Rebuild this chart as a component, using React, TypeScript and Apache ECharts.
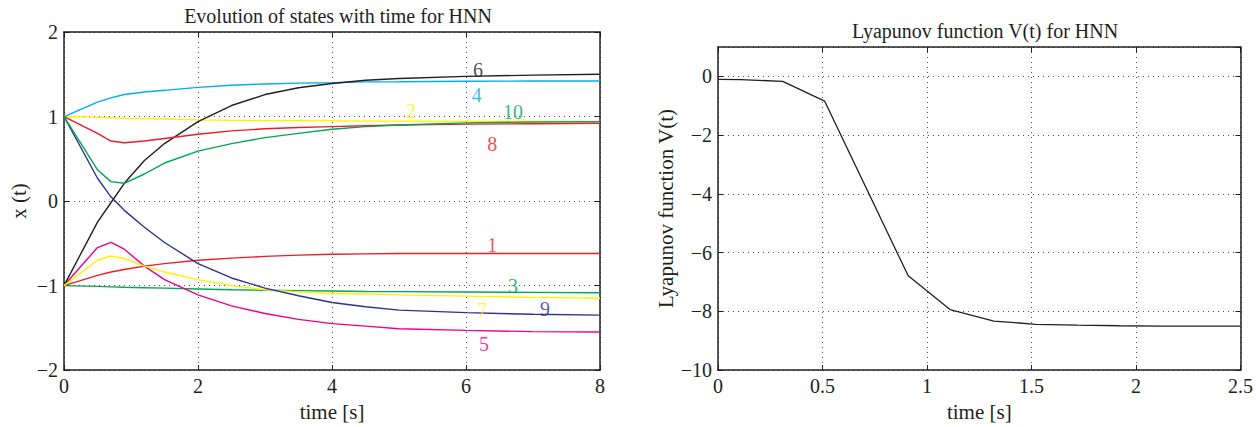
import React, { useEffect, useRef } from "react";
import * as echarts from "echarts";

// ---------- Left chart: evolution of states ----------
const stateTimes = [0, 0.5, 0.7, 0.9, 1.2, 1.5, 2, 2.5, 3, 3.5, 4, 4.5, 5, 6, 7, 8];

const state1 = [-1, -0.88, -0.84, -0.81, -0.77, -0.74, -0.7, -0.675, -0.655, -0.64, -0.63, -0.625, -0.62, -0.62, -0.62, -0.62];
const state2 = [1, 0.99, 0.985, 0.98, 0.975, 0.97, 0.96, 0.955, 0.952, 0.95, 0.948, 0.946, 0.945, 0.943, 0.942, 0.94];
const state3 = [-1, -1.01, -1.015, -1.02, -1.025, -1.03, -1.04, -1.05, -1.055, -1.06, -1.065, -1.07, -1.072, -1.076, -1.08, -1.085];
const state4 = [1, 1.17, 1.22, 1.26, 1.29, 1.31, 1.345, 1.37, 1.385, 1.395, 1.4, 1.41, 1.412, 1.418, 1.42, 1.42];
const state5 = [-1, -0.55, -0.49, -0.57, -0.77, -0.93, -1.11, -1.24, -1.33, -1.4, -1.45, -1.48, -1.51, -1.53, -1.545, -1.55];
const state6 = [-1, -0.25, -0.02, 0.21, 0.48, 0.68, 0.94, 1.13, 1.26, 1.34, 1.39, 1.43, 1.45, 1.475, 1.49, 1.5];
const state7 = [-1, -0.7, -0.65, -0.68, -0.77, -0.84, -0.93, -1.0, -1.05, -1.075, -1.09, -1.1, -1.11, -1.125, -1.14, -1.15];
const state8 = [1, 0.8, 0.71, 0.69, 0.71, 0.74, 0.79, 0.83, 0.855, 0.87, 0.88, 0.89, 0.9, 0.91, 0.915, 0.92];
const state9 = [1, 0.27, 0.05, -0.11, -0.31, -0.49, -0.74, -0.91, -1.03, -1.12, -1.2, -1.25, -1.29, -1.32, -1.34, -1.35];
const state10 = [1, 0.37, 0.23, 0.21, 0.32, 0.45, 0.59, 0.68, 0.75, 0.8, 0.85, 0.88, 0.9, 0.925, 0.935, 0.94];

const stateNames = ["1", "2", "3", "4", "5", "6", "7", "8", "9", "10"];
const stateValues = [state1, state2, state3, state4, state5, state6, state7, state8, state9, state10];
const stateColors = ["#ee1c24", "#fff200", "#00a651", "#00aeef", "#ec008c", "#231f20", "#fff200", "#ee1c24", "#2e3192", "#00a651"];

// curve label positions [t, x]
const labelX = [6.39, 5.18, 6.7, 6.16, 6.27, 6.18, 6.24, 6.39, 7.18, 6.7];
const labelY = [-0.52, 1.07, -1.0, 1.26, -1.69, 1.55, -1.29, 0.67, -1.28, 1.05];

// ---------- Right chart: Lyapunov function ----------
const lyapTimes = [0, 0.11, 0.31, 0.51, 0.91, 1.11, 1.32, 1.52, 1.72, 1.92, 2.12, 2.32, 2.5];
const lyapValues = [-0.1, -0.11, -0.17, -0.84, -6.79, -7.94, -8.33, -8.44, -8.47, -8.49, -8.5, -8.5, -8.5];

const FONT = "'Liberation Serif', 'DejaVu Serif', serif";
const INK = "#231f20";
const TICK_SIZE = 20;
const NAME_SIZE = 21;

const minusFmt = (v: number) => String(v).replace("-", "\u2212");

function axisBase(gridIndex: number, min: number, max: number, interval: number, main: boolean) {
  return {
    type: "value",
    gridIndex,
    min,
    max,
    interval,
    axisLine: { show: true, onZero: false, lineStyle: { color: INK, width: 1.5 } },
    axisTick: { show: true, inside: true, length: 5, lineStyle: { color: INK, width: 1 } },
    axisLabel: main
      ? { show: true, fontFamily: FONT, fontSize: TICK_SIZE, color: INK, formatter: minusFmt, margin: 6 }
      : { show: false },
    splitLine: main
      ? { show: true, lineStyle: { color: "#555", type: [1, 4], width: 1 } }
      : { show: false },
  };
}

export default function App() {
  const ref = useRef<HTMLDivElement>(null);

  useEffect(() => {
    if (!ref.current) return;
    const chart = echarts.init(ref.current, undefined, { renderer: "svg" });

    const lineSeries = stateValues.map((vals, i) => ({
      type: "line",
      name: stateNames[i],
      xAxisIndex: 0,
      yAxisIndex: 0,
      data: stateTimes.map((t, k) => [t, vals[k]]),
      showSymbol: false,
      symbol: "none",
      lineStyle: { color: stateColors[i], width: 1.4 },
      z: 3,
    }));

    const labelSeries = {
      type: "scatter",
      xAxisIndex: 0,
      yAxisIndex: 0,
      symbolSize: 0,
      silent: true,
      z: 5,
      data: stateNames.map((n, i) => ({
        value: [labelX[i], labelY[i]],
        name: n,
        label: {
          show: true,
          position: "inside",
          formatter: n,
          color: stateColors[i],
          fontFamily: FONT,
          fontSize: 20,
        },
      })),
    };

    const nameStyle = { fontFamily: FONT, fontSize: NAME_SIZE, color: INK };
    const xL = { ...axisBase(0, 0, 8, 2, true), position: "bottom", name: "time [s]", nameLocation: "middle", nameGap: 29, nameTextStyle: nameStyle };
    const xLt = { ...axisBase(0, 0, 8, 2, false), position: "top" };
    const yL = { ...axisBase(0, -2, 2, 1, true), position: "left", name: "x (t)", nameLocation: "middle", nameGap: 35, nameTextStyle: nameStyle };
    const yLr = { ...axisBase(0, -2, 2, 1, false), position: "right" };

    const xR = { ...axisBase(1, 0, 2.5, 0.5, true), position: "bottom", name: "time [s]", nameLocation: "middle", nameGap: 24, nameTextStyle: nameStyle };
    const xRt = { ...axisBase(1, 0, 2.5, 0.5, false), position: "top" };
    const yRbase = axisBase(1, -10, 1, 2, true);
    const yR = { ...yRbase, position: "left", axisLabel: { ...(yRbase.axisLabel as any), showMaxLabel: false }, name: "Lyapunov function V(t)", nameLocation: "middle", nameGap: 38, nameTextStyle: nameStyle };
    const yRr = { ...axisBase(1, -10, 1, 2, false), position: "right" };

    chart.setOption({
      animation: false,
      backgroundColor: "#ffffff",
      title: [
        { text: "Evolution of states with time for HNN", left: 333, top: 1, textAlign: "center", textStyle: { fontFamily: FONT, fontSize: 20, fontWeight: "normal", color: INK } },
        { text: "Lyapunov function V(t) for HNN", left: 980, top: 16, textAlign: "center", textStyle: { fontFamily: FONT, fontSize: 20, fontWeight: "normal", color: INK } },
      ],
      grid: [
        { left: 64, top: 32, width: 536, height: 340 },
        { left: 718, top: 47, width: 525, height: 330 },
      ],
      xAxis: [xL, xLt, xR, xRt],
      yAxis: [yL, yLr, yR, yRr],
      series: [
        ...lineSeries,
        labelSeries,
        {
          type: "line",
          xAxisIndex: 2,
          yAxisIndex: 2,
          data: lyapTimes.map((t, k) => [t, lyapValues[k]]),
          showSymbol: false,
          symbol: "none",
          lineStyle: { color: INK, width: 1.3 },
        },
      ],
    });

    return () => chart.dispose();
  }, []);

  return <div ref={ref} style={{ position: "absolute", left: 0, top: 0, width: 1256, height: 427 }} />;
}
